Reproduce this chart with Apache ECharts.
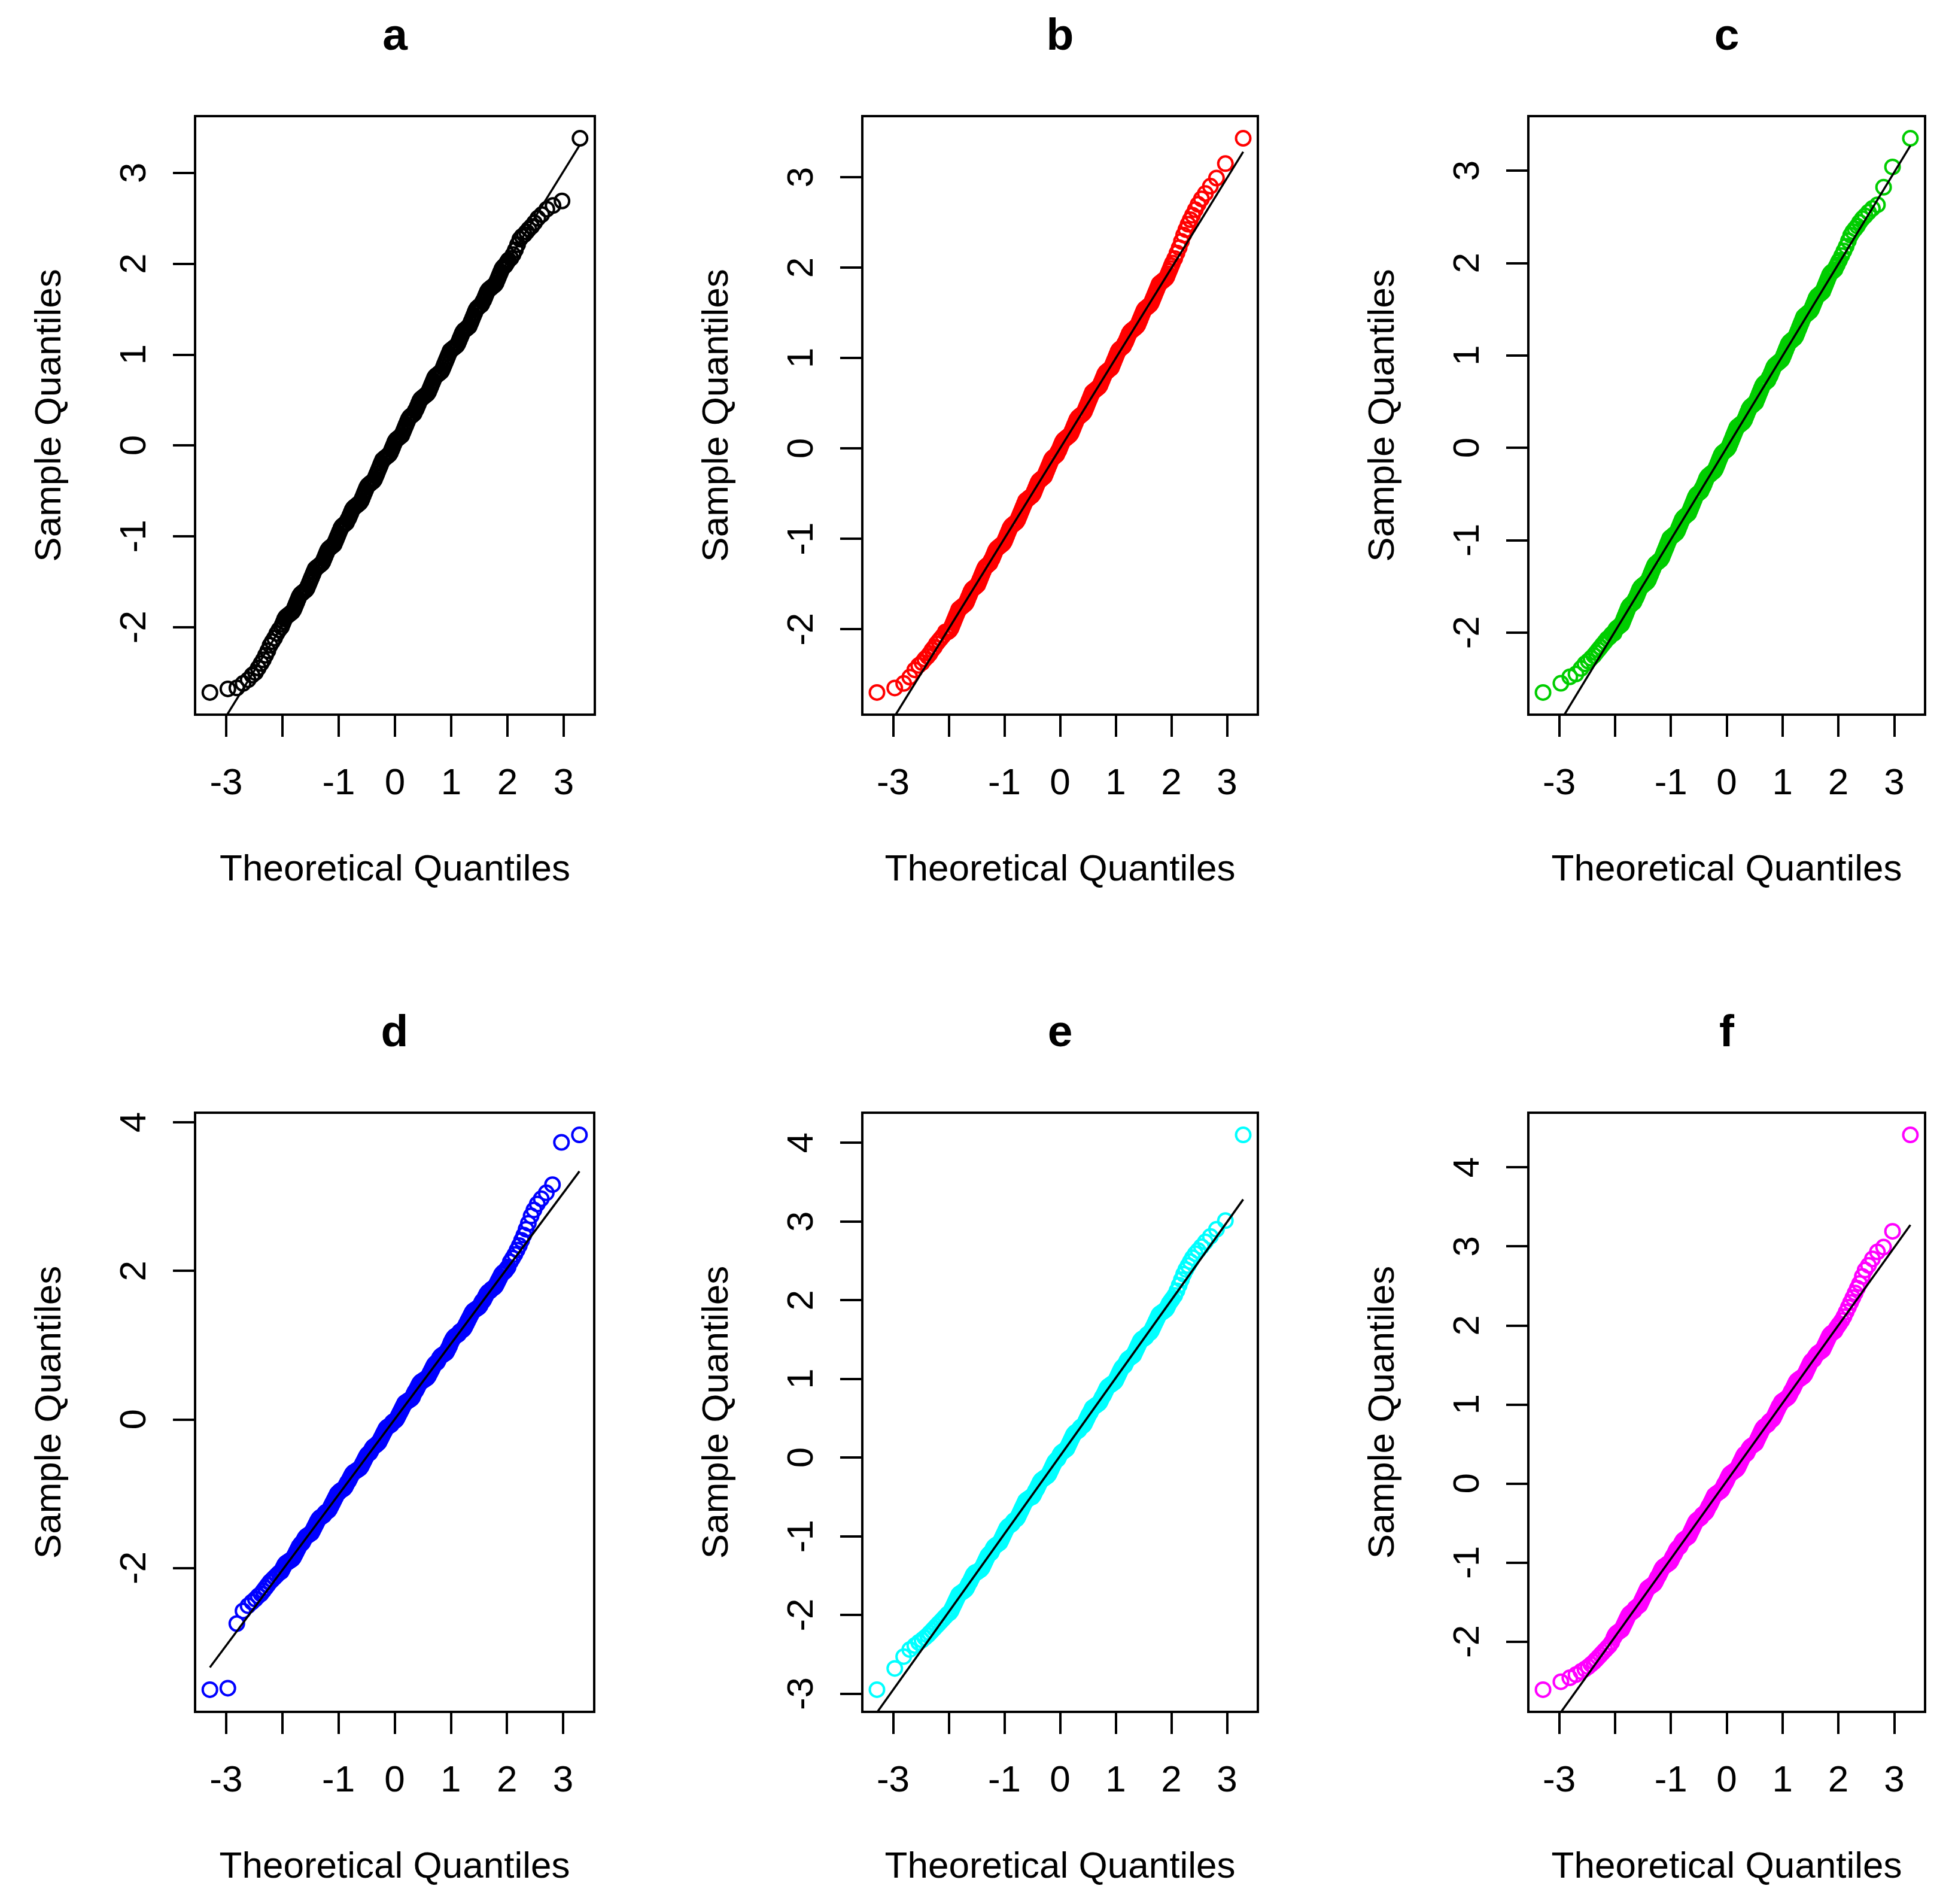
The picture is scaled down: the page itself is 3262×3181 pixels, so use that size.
<!DOCTYPE html>
<html>
<head>
<meta charset="utf-8">
<script src="https://cdn.jsdelivr.net/npm/echarts@6/dist/echarts.min.js"></script>
<style>
html,body{margin:0;padding:0;background:#ffffff;}
#chart{width:3262px;height:3181px;}
</style>
</head>
<body>
<div id="chart"></div>
<script>
// ---------------- data ----------------
const panelNames = ['a', 'b', 'c', 'd', 'e', 'f'];
const panelColors = ['#000000', '#FF0000', '#00CD00', '#0000FF', '#00FFFF', '#FF00FF'];

// theoretical quantiles (x positions of the plotted points)
const theoretical = [
  -3.29, -2.97, -2.81, -2.70, -2.61, -2.54, -2.48, -2.43, -2.38, -2.34, -2.30, -2.26, -2.22, -2.18, -2.14, -2.10, -2.06,
  -2.02, -2.00, -1.98, -1.96, -1.94, -1.92, -1.90, -1.88, -1.86, -1.84, -1.82, -1.80, -1.78, -1.76, -1.74, -1.72, -1.70, -1.68, -1.66, -1.64,
  -1.62, -1.60, -1.58, -1.56, -1.54, -1.52, -1.50, -1.48, -1.46, -1.44, -1.42, -1.40, -1.38, -1.36, -1.34, -1.32, -1.30, -1.28, -1.26, -1.24,
  -1.22, -1.20, -1.18, -1.16, -1.14, -1.12, -1.10, -1.08, -1.06, -1.04, -1.02, -1.00, -0.98, -0.96, -0.94, -0.92, -0.90, -0.88, -0.86, -0.84,
  -0.82, -0.80, -0.78, -0.76, -0.74, -0.72, -0.70, -0.68, -0.66, -0.64, -0.62, -0.60, -0.58, -0.56, -0.54, -0.52, -0.50, -0.48, -0.46, -0.44,
  -0.42, -0.40, -0.38, -0.36, -0.34, -0.32, -0.30, -0.28, -0.26, -0.24, -0.22, -0.20, -0.18, -0.16, -0.14, -0.12, -0.10, -0.08, -0.06, -0.04,
  -0.02, 0.00, 0.02, 0.04, 0.06, 0.08, 0.10, 0.12, 0.14, 0.16, 0.18, 0.20, 0.22, 0.24, 0.26, 0.28, 0.30, 0.32, 0.34, 0.36,
  0.38, 0.40, 0.42, 0.44, 0.46, 0.48, 0.50, 0.52, 0.54, 0.56, 0.58, 0.60, 0.62, 0.64, 0.66, 0.68, 0.70, 0.72, 0.74, 0.76,
  0.78, 0.80, 0.82, 0.84, 0.86, 0.88, 0.90, 0.92, 0.94, 0.96, 0.98, 1.00, 1.02, 1.04, 1.06, 1.08, 1.10, 1.12, 1.14, 1.16,
  1.18, 1.20, 1.22, 1.24, 1.26, 1.28, 1.30, 1.32, 1.34, 1.36, 1.38, 1.40, 1.42, 1.44, 1.46, 1.48, 1.50, 1.52, 1.54, 1.56,
  1.58, 1.60, 1.62, 1.64, 1.66, 1.68, 1.70, 1.72, 1.74, 1.76, 1.78, 1.80, 1.82, 1.84, 1.86, 1.88, 1.90, 1.92, 1.94, 1.96,
  1.98, 2.00, 2.02,
  2.06, 2.10, 2.14, 2.18, 2.22, 2.26, 2.30, 2.34, 2.38, 2.43, 2.48, 2.54, 2.61, 2.70, 2.81, 2.97, 3.29
];

const sampleA = [
  -2.72, -2.68, -2.67, -2.62, -2.58, -2.53, -2.50, -2.45, -2.40, -2.36, -2.31, -2.26, -2.20, -2.16, -2.12, -2.07, -2.03,
  -2.00, -1.97, -1.94, -1.91, -1.89, -1.88, -1.87, -1.86, -1.85, -1.84, -1.83, -1.81, -1.78, -1.75, -1.72, -1.69, -1.66, -1.64, -1.63, -1.62,
  -1.61, -1.60, -1.59, -1.57, -1.54, -1.51, -1.48, -1.45, -1.42, -1.39, -1.36, -1.35, -1.34, -1.33, -1.32, -1.31, -1.30, -1.28, -1.25, -1.22,
  -1.19, -1.16, -1.14, -1.13, -1.12, -1.11, -1.10, -1.09, -1.06, -1.03, -1.00, -0.97, -0.94, -0.91, -0.89, -0.88, -0.87, -0.86, -0.85, -0.82,
  -0.80, -0.77, -0.74, -0.71, -0.69, -0.68, -0.67, -0.66, -0.65, -0.64, -0.63, -0.61, -0.58, -0.55, -0.52, -0.49, -0.46, -0.44, -0.43, -0.42,
  -0.41, -0.40, -0.39, -0.37, -0.34, -0.31, -0.28, -0.25, -0.22, -0.19, -0.16, -0.15, -0.14, -0.13, -0.12, -0.11, -0.10, -0.08, -0.05, -0.02,
  0.01, 0.04, 0.06, 0.07, 0.08, 0.09, 0.10, 0.11, 0.14, 0.17, 0.20, 0.23, 0.26, 0.29, 0.31, 0.32, 0.33, 0.34, 0.35, 0.38,
  0.40, 0.43, 0.46, 0.49, 0.51, 0.52, 0.53, 0.54, 0.55, 0.56, 0.57, 0.59, 0.62, 0.65, 0.68, 0.71, 0.74, 0.76, 0.77, 0.78,
  0.79, 0.80, 0.81, 0.83, 0.86, 0.89, 0.92, 0.95, 0.98, 1.01, 1.04, 1.05, 1.06, 1.07, 1.08, 1.09, 1.10, 1.12, 1.15, 1.18,
  1.21, 1.24, 1.26, 1.27, 1.28, 1.29, 1.30, 1.31, 1.34, 1.37, 1.40, 1.43, 1.46, 1.49, 1.51, 1.52, 1.53, 1.54, 1.55, 1.58,
  1.60, 1.63, 1.66, 1.69, 1.71, 1.72, 1.73, 1.74, 1.75, 1.76, 1.77, 1.79, 1.82, 1.85, 1.88, 1.91, 1.94, 1.96, 1.97, 1.98,
  2.00, 2.02, 2.04,
  2.06, 2.10, 2.15, 2.21, 2.27, 2.30, 2.32, 2.35, 2.38, 2.41, 2.45, 2.50, 2.54, 2.60, 2.64, 2.69, 3.38
];

const sampleB = [
  -2.70, -2.65, -2.60, -2.53, -2.45, -2.40, -2.37, -2.33, -2.30, -2.27, -2.23, -2.20, -2.16, -2.13, -2.10, -2.07, -2.03,
  -2.03, -2.02, -2.01, -1.99, -1.96, -1.93, -1.90, -1.87, -1.84, -1.81, -1.78, -1.77, -1.76, -1.75, -1.74, -1.73, -1.72, -1.70, -1.67, -1.64,
  -1.61, -1.58, -1.56, -1.55, -1.54, -1.53, -1.52, -1.51, -1.48, -1.45, -1.42, -1.39, -1.36, -1.33, -1.31, -1.30, -1.29, -1.28, -1.27, -1.24,
  -1.22, -1.19, -1.16, -1.13, -1.11, -1.10, -1.09, -1.08, -1.07, -1.06, -1.05, -1.03, -1.00, -0.97, -0.94, -0.91, -0.88, -0.86, -0.85, -0.84,
  -0.83, -0.82, -0.81, -0.79, -0.76, -0.73, -0.70, -0.67, -0.64, -0.61, -0.58, -0.57, -0.56, -0.55, -0.54, -0.53, -0.52, -0.50, -0.47, -0.44,
  -0.41, -0.38, -0.36, -0.35, -0.34, -0.33, -0.32, -0.31, -0.28, -0.25, -0.22, -0.19, -0.16, -0.13, -0.11, -0.10, -0.09, -0.08, -0.07, -0.04,
  -0.02, 0.01, 0.04, 0.07, 0.09, 0.10, 0.11, 0.12, 0.13, 0.14, 0.15, 0.17, 0.20, 0.23, 0.26, 0.29, 0.32, 0.34, 0.35, 0.36,
  0.37, 0.38, 0.39, 0.41, 0.44, 0.47, 0.50, 0.53, 0.56, 0.59, 0.62, 0.63, 0.64, 0.65, 0.66, 0.67, 0.68, 0.70, 0.73, 0.76,
  0.79, 0.82, 0.84, 0.85, 0.86, 0.87, 0.88, 0.89, 0.92, 0.95, 0.98, 1.01, 1.04, 1.07, 1.09, 1.10, 1.11, 1.12, 1.13, 1.16,
  1.18, 1.21, 1.24, 1.27, 1.29, 1.30, 1.31, 1.32, 1.33, 1.34, 1.35, 1.37, 1.40, 1.43, 1.46, 1.49, 1.52, 1.54, 1.55, 1.56,
  1.57, 1.58, 1.59, 1.61, 1.64, 1.67, 1.70, 1.73, 1.76, 1.79, 1.82, 1.83, 1.84, 1.85, 1.86, 1.87, 1.88, 1.90, 1.93, 1.96,
  1.99, 2.02, 2.05,
  2.10, 2.16, 2.22, 2.29, 2.36, 2.42, 2.48, 2.53, 2.58, 2.64, 2.70, 2.76, 2.82, 2.90, 2.99, 3.15, 3.43
];

const sampleC = [
  -2.65, -2.55, -2.48, -2.45, -2.39, -2.34, -2.31, -2.28, -2.25, -2.22, -2.19, -2.16, -2.13, -2.10, -2.07, -2.05, -2.02,
  -2.01, -1.98, -1.96, -1.95, -1.94, -1.93, -1.92, -1.91, -1.88, -1.85, -1.82, -1.79, -1.76, -1.73, -1.71, -1.70, -1.69, -1.68, -1.67, -1.64,
  -1.62, -1.59, -1.56, -1.53, -1.51, -1.50, -1.49, -1.48, -1.47, -1.46, -1.45, -1.43, -1.40, -1.37, -1.34, -1.31, -1.28, -1.26, -1.25, -1.24,
  -1.23, -1.22, -1.21, -1.19, -1.16, -1.13, -1.10, -1.07, -1.04, -1.01, -0.98, -0.97, -0.96, -0.95, -0.94, -0.93, -0.92, -0.90, -0.87, -0.84,
  -0.81, -0.78, -0.76, -0.75, -0.74, -0.73, -0.72, -0.71, -0.68, -0.65, -0.62, -0.59, -0.56, -0.53, -0.51, -0.50, -0.49, -0.48, -0.47, -0.44,
  -0.42, -0.39, -0.36, -0.33, -0.31, -0.30, -0.29, -0.28, -0.27, -0.26, -0.25, -0.23, -0.20, -0.17, -0.14, -0.11, -0.08, -0.06, -0.05, -0.04,
  -0.03, -0.02, -0.01, 0.01, 0.04, 0.07, 0.10, 0.13, 0.16, 0.19, 0.22, 0.23, 0.24, 0.25, 0.26, 0.27, 0.28, 0.30, 0.33, 0.36,
  0.39, 0.42, 0.44, 0.45, 0.46, 0.47, 0.48, 0.49, 0.52, 0.55, 0.58, 0.61, 0.64, 0.67, 0.69, 0.70, 0.71, 0.72, 0.73, 0.76,
  0.78, 0.81, 0.84, 0.87, 0.89, 0.90, 0.91, 0.92, 0.93, 0.94, 0.95, 0.97, 1.00, 1.03, 1.06, 1.09, 1.12, 1.14, 1.15, 1.16,
  1.17, 1.18, 1.19, 1.21, 1.24, 1.27, 1.30, 1.33, 1.36, 1.39, 1.42, 1.43, 1.44, 1.45, 1.46, 1.47, 1.48, 1.50, 1.53, 1.56,
  1.59, 1.62, 1.64, 1.65, 1.66, 1.67, 1.68, 1.69, 1.72, 1.75, 1.78, 1.81, 1.84, 1.87, 1.89, 1.90, 1.91, 1.92, 1.93, 1.96,
  1.98, 2.01, 2.03,
  2.08, 2.13, 2.18, 2.24, 2.30, 2.34, 2.37, 2.40, 2.44, 2.48, 2.51, 2.55, 2.59, 2.63, 2.82, 3.04, 3.35
];

const sampleD = [
  -3.64, -3.62, -2.75, -2.58, -2.51, -2.46, -2.42, -2.38, -2.35, -2.31, -2.27, -2.23, -2.19, -2.16, -2.13, -2.10, -2.07,
  -2.05, -2.02, -1.99, -1.96, -1.94, -1.93, -1.92, -1.91, -1.90, -1.89, -1.88, -1.86, -1.83, -1.80, -1.77, -1.74, -1.71, -1.69, -1.67, -1.66,
  -1.63, -1.60, -1.58, -1.57, -1.56, -1.55, -1.54, -1.53, -1.50, -1.47, -1.44, -1.41, -1.38, -1.35, -1.33, -1.32, -1.31, -1.30, -1.29, -1.26,
  -1.25, -1.24, -1.23, -1.21, -1.18, -1.15, -1.12, -1.09, -1.06, -1.03, -1.00, -0.99, -0.97, -0.96, -0.95, -0.94, -0.93, -0.91, -0.88, -0.85,
  -0.83, -0.80, -0.77, -0.74, -0.72, -0.71, -0.70, -0.69, -0.68, -0.67, -0.66, -0.64, -0.61, -0.58, -0.55, -0.52, -0.49, -0.47, -0.46, -0.45,
  -0.42, -0.39, -0.37, -0.36, -0.35, -0.34, -0.32, -0.31, -0.28, -0.25, -0.22, -0.19, -0.16, -0.13, -0.11, -0.10, -0.09, -0.08, -0.07, -0.04,
  -0.03, -0.02, -0.01, 0.01, 0.04, 0.07, 0.10, 0.13, 0.16, 0.19, 0.22, 0.23, 0.24, 0.25, 0.26, 0.27, 0.28, 0.30, 0.34, 0.37,
  0.39, 0.42, 0.45, 0.48, 0.50, 0.51, 0.52, 0.53, 0.54, 0.55, 0.56, 0.58, 0.61, 0.64, 0.67, 0.70, 0.73, 0.75, 0.76, 0.77,
  0.80, 0.83, 0.85, 0.86, 0.87, 0.88, 0.89, 0.90, 0.93, 0.96, 0.99, 1.03, 1.06, 1.09, 1.11, 1.12, 1.13, 1.14, 1.15, 1.18,
  1.19, 1.20, 1.21, 1.23, 1.26, 1.29, 1.32, 1.35, 1.38, 1.41, 1.44, 1.46, 1.47, 1.48, 1.49, 1.50, 1.51, 1.53, 1.56, 1.59,
  1.60, 1.63, 1.66, 1.69, 1.71, 1.72, 1.73, 1.75, 1.76, 1.77, 1.78, 1.80, 1.83, 1.86, 1.89, 1.92, 1.95, 1.97, 1.98, 1.99,
  2.01, 2.03, 2.05,
  2.12, 2.17, 2.22, 2.28, 2.34, 2.41, 2.48, 2.56, 2.64, 2.74, 2.82, 2.90, 2.97, 3.05, 3.16, 3.73, 3.83
];

const sampleE = [
  -2.95, -2.68, -2.53, -2.44, -2.39, -2.35, -2.32, -2.29, -2.26, -2.23, -2.20, -2.17, -2.14, -2.11, -2.08, -2.05, -2.02,
  -1.99, -1.98, -1.97, -1.95, -1.92, -1.89, -1.86, -1.83, -1.80, -1.77, -1.74, -1.73, -1.72, -1.71, -1.70, -1.69, -1.68, -1.66, -1.63, -1.60,
  -1.58, -1.55, -1.52, -1.49, -1.47, -1.46, -1.46, -1.45, -1.44, -1.43, -1.42, -1.40, -1.37, -1.34, -1.31, -1.28, -1.25, -1.23, -1.22, -1.21,
  -1.18, -1.15, -1.13, -1.12, -1.11, -1.10, -1.09, -1.08, -1.05, -1.02, -0.99, -0.96, -0.93, -0.90, -0.88, -0.87, -0.86, -0.85, -0.84, -0.81,
  -0.80, -0.79, -0.78, -0.76, -0.73, -0.70, -0.67, -0.64, -0.61, -0.58, -0.55, -0.54, -0.53, -0.52, -0.51, -0.50, -0.50, -0.48, -0.45, -0.42,
  -0.40, -0.37, -0.34, -0.31, -0.29, -0.28, -0.27, -0.26, -0.25, -0.24, -0.23, -0.21, -0.18, -0.15, -0.12, -0.09, -0.06, -0.04, -0.03, -0.02,
  0.01, 0.04, 0.06, 0.07, 0.08, 0.09, 0.10, 0.11, 0.14, 0.17, 0.20, 0.23, 0.26, 0.29, 0.31, 0.32, 0.33, 0.34, 0.35, 0.38,
  0.39, 0.40, 0.41, 0.43, 0.46, 0.49, 0.52, 0.55, 0.57, 0.60, 0.63, 0.64, 0.65, 0.66, 0.67, 0.68, 0.69, 0.71, 0.74, 0.77,
  0.79, 0.82, 0.85, 0.88, 0.90, 0.91, 0.92, 0.93, 0.94, 0.95, 0.96, 0.98, 1.01, 1.04, 1.07, 1.10, 1.13, 1.15, 1.16, 1.17,
  1.20, 1.23, 1.25, 1.26, 1.27, 1.28, 1.29, 1.30, 1.33, 1.36, 1.39, 1.42, 1.45, 1.48, 1.50, 1.51, 1.51, 1.52, 1.53, 1.56,
  1.57, 1.58, 1.59, 1.61, 1.64, 1.67, 1.70, 1.73, 1.76, 1.79, 1.82, 1.83, 1.84, 1.85, 1.86, 1.87, 1.88, 1.90, 1.93, 1.96,
  1.98, 2.00, 2.02,
  2.06, 2.12, 2.19, 2.26, 2.33, 2.39, 2.44, 2.49, 2.54, 2.59, 2.63, 2.68, 2.74, 2.81, 2.90, 3.01, 4.10
];

const sampleF = [
  -2.61, -2.51, -2.46, -2.42, -2.38, -2.35, -2.32, -2.29, -2.26, -2.23, -2.20, -2.17, -2.14, -2.11, -2.08, -2.05, -2.01,
  -1.95, -1.92, -1.90, -1.89, -1.88, -1.87, -1.86, -1.85, -1.82, -1.79, -1.76, -1.73, -1.70, -1.67, -1.65, -1.64, -1.63, -1.62, -1.61, -1.58,
  -1.57, -1.56, -1.55, -1.54, -1.51, -1.48, -1.45, -1.42, -1.39, -1.36, -1.33, -1.32, -1.31, -1.30, -1.29, -1.28, -1.27, -1.25, -1.22, -1.19,
  -1.17, -1.14, -1.11, -1.08, -1.06, -1.05, -1.04, -1.03, -1.02, -1.01, -1.00, -0.98, -0.95, -0.92, -0.90, -0.87, -0.84, -0.82, -0.81, -0.80,
  -0.77, -0.74, -0.72, -0.71, -0.70, -0.69, -0.68, -0.67, -0.64, -0.61, -0.58, -0.55, -0.52, -0.49, -0.47, -0.46, -0.45, -0.44, -0.43, -0.40,
  -0.39, -0.38, -0.37, -0.35, -0.32, -0.29, -0.27, -0.24, -0.21, -0.18, -0.15, -0.14, -0.13, -0.12, -0.11, -0.10, -0.09, -0.07, -0.04, -0.01,
  0.01, 0.04, 0.07, 0.10, 0.12, 0.13, 0.14, 0.15, 0.16, 0.17, 0.18, 0.20, 0.23, 0.26, 0.29, 0.32, 0.35, 0.37, 0.37, 0.38,
  0.41, 0.44, 0.46, 0.47, 0.48, 0.49, 0.50, 0.51, 0.54, 0.57, 0.60, 0.63, 0.66, 0.69, 0.71, 0.72, 0.73, 0.74, 0.75, 0.78,
  0.79, 0.80, 0.81, 0.83, 0.86, 0.89, 0.92, 0.95, 0.98, 1.00, 1.03, 1.04, 1.05, 1.06, 1.07, 1.08, 1.09, 1.11, 1.14, 1.17,
  1.19, 1.22, 1.25, 1.28, 1.30, 1.31, 1.32, 1.33, 1.34, 1.35, 1.36, 1.38, 1.41, 1.44, 1.47, 1.50, 1.53, 1.55, 1.56, 1.57,
  1.60, 1.62, 1.64, 1.65, 1.66, 1.67, 1.68, 1.69, 1.72, 1.75, 1.78, 1.81, 1.84, 1.87, 1.89, 1.90, 1.91, 1.92, 1.93, 1.96,
  1.98, 2.00, 2.02,
  2.06, 2.11, 2.17, 2.23, 2.29, 2.35, 2.41, 2.47, 2.53, 2.62, 2.70, 2.76, 2.84, 2.93, 2.99, 3.19, 4.41
];

// reference line: sample-quantile values at the smallest and largest theoretical quantile
const refLineA = [-3.27, 3.31];
const refLineB = [-3.28, 3.28];
const refLineC = [-3.27, 3.27];
const refLineD = [-3.34, 3.34];
const refLineE = [-3.24, 3.28];
const refLineF = [-3.21, 3.27];

// tick marks / labels
const xTickValues = [-3, -2, -1, 0, 1, 2, 3];
const xLabelValues = [-3, -1, 0, 1, 2, 3];
const yTicksA = [-2, -1, 0, 1, 2, 3];
const yTicksB = [-2, -1, 0, 1, 2, 3];
const yTicksC = [-2, -1, 0, 1, 2, 3];
const yTicksD = [-2, 0, 2, 4];
const yTicksE = [-3, -2, -1, 0, 1, 2, 3, 4];
const yTicksF = [-2, -1, 0, 1, 2, 3, 4];

const xAxisTitle = 'Theoretical Quantiles';
const yAxisTitle = 'Sample Quantiles';

// ---------------- layout & style ----------------
const samples = [sampleA, sampleB, sampleC, sampleD, sampleE, sampleF];
const refLines = [refLineA, refLineB, refLineC, refLineD, refLineE, refLineF];
const yTicks = [yTicksA, yTicksB, yTicksC, yTicksD, yTicksE, yTicksF];

const layout = [
  { left: 326, top: 194, width: 668, height: 1000 },
  { left: 1441, top: 194, width: 661, height: 1000 },
  { left: 2554, top: 194, width: 663, height: 1000 },
  { left: 326, top: 1859, width: 667, height: 1001 },
  { left: 1441, top: 1859, width: 661, height: 1001 },
  { left: 2554, top: 1859, width: 663, height: 1001 }
];
const titleY = [62, 62, 62, 1727, 1727, 1727];

const FONT = '"Liberation Sans", Arial, Helvetica, sans-serif';
const AXIS_FS = 62;

// R-style range: data range extended by 4% on each side
function padRange(arr) {
  const lo = Math.min.apply(null, arr), hi = Math.max.apply(null, arr);
  const r = hi - lo;
  return [lo - 0.04 * r, hi + 0.04 * r];
}
const xRange = padRange(theoretical);

const grids = [], xAxes = [], yAxes = [], series = [], graphics = [];
panelNames.forEach(function (name, i) {
  const g = layout[i];
  if (samples[i].length !== theoretical.length) {
    console.warn('length mismatch in panel ' + name + ': ' + samples[i].length);
  }
  grids.push({
    left: g.left, top: g.top, width: g.width, height: g.height,
    show: true, borderColor: '#000', borderWidth: 4, backgroundColor: 'transparent',
    containLabel: false, outerBoundsMode: 'none'
  });
  xAxes.push({
    type: 'value', gridIndex: i, min: xRange[0], max: xRange[1], position: 'bottom',
    axisLine: { show: false, onZero: false },
    splitLine: { show: false },
    axisTick: { show: true, customValues: xTickValues, length: 37, lineStyle: { color: '#000', width: 4 } },
    axisLabel: { customValues: xLabelValues, margin: 85, fontSize: AXIS_FS, fontFamily: FONT, color: '#000' },
    name: xAxisTitle, nameLocation: 'middle', nameGap: 229,
    nameTextStyle: { fontSize: AXIS_FS, fontFamily: FONT, color: '#000' }
  });
  const yr = padRange(samples[i]);
  yAxes.push({
    type: 'value', gridIndex: i, min: yr[0], max: yr[1], position: 'left',
    axisLine: { show: false, onZero: false },
    splitLine: { show: false },
    axisTick: { show: true, customValues: yTicks[i], length: 37, lineStyle: { color: '#000', width: 4 } },
    axisLabel: { customValues: yTicks[i], rotate: 90, margin: 69, fontSize: AXIS_FS, fontFamily: FONT, color: '#000' },
    name: yAxisTitle, nameLocation: 'middle', nameGap: 211,
    nameTextStyle: { fontSize: AXIS_FS, fontFamily: FONT, color: '#000' }
  });
  series.push({
    type: 'scatter', xAxisIndex: i, yAxisIndex: i, silent: true,
    symbol: 'circle', symbolSize: 24,
    itemStyle: { color: 'rgba(0,0,0,0)', borderColor: panelColors[i], borderWidth: 4, opacity: 1 },
    data: theoretical.map(function (x, k) { return [x, samples[i][k]]; }),
    z: 2
  });
  series.push({
    type: 'line', xAxisIndex: i, yAxisIndex: i, silent: true, clip: true,
    symbol: 'none', lineStyle: { color: '#000', width: 3.5 },
    data: [[theoretical[0], refLines[i][0]], [theoretical[theoretical.length - 1], refLines[i][1]]],
    z: 3
  });
  graphics.push({
    type: 'text', x: g.left + g.width / 2, y: titleY[i],
    style: {
      text: name, fill: '#000', font: 'bold 75px ' + FONT,
      textAlign: 'center', textVerticalAlign: 'middle', align: 'center', verticalAlign: 'middle'
    }
  });
});

const chart = echarts.init(document.getElementById('chart'), null, { renderer: 'canvas' });
chart.setOption({
  animation: false,
  backgroundColor: '#ffffff',
  grid: grids,
  xAxis: xAxes,
  yAxis: yAxes,
  series: series,
  graphic: graphics
});
</script>
</body>
</html>
